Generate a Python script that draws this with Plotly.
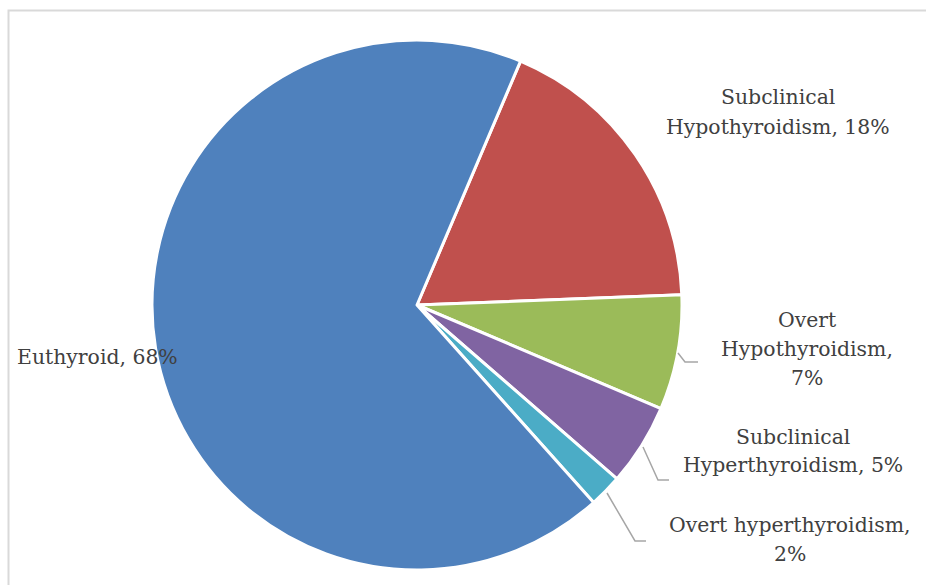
import plotly.graph_objects as go

labels = ["Subclinical Hypothyroidism", "Overt Hypothyroidism", "Subclinical Hyperthyroidism",
          "Overt hyperthyroidism", "Euthyroid"]
values = [18, 7, 5, 2, 68]
colors = ["#C0504D", "#9BBB59", "#8064A2", "#4BACC6", "#4F81BD"]
label_lines = [["Subclinical", "Hypothyroidism, 18%"],
               ["Overt", "Hypothyroidism,", "7%"],
               ["Subclinical", "Hyperthyroidism, 5%"],
               ["Overt hyperthyroidism,", "2%"],
               ["Euthyroid, 68%"]]

W, H = 926, 585
cx, cy, R = 417, 305, 265

def px(x):
    return x / W

def py(y):
    return 1 - y / H

fig = go.Figure(go.Pie(
    labels=labels, values=values, sort=False, direction="clockwise", rotation=23,
    marker=dict(colors=colors, line=dict(color="white", width=3)),
    textinfo="none", hoverinfo="label+percent", showlegend=False,
    domain=dict(x=[px(cx - R), px(cx + R)], y=[py(cy + R), py(cy - R)]),
))

font = dict(family="DejaVu Serif", size=20.4, color="#404040")
label_pos = [(778, 112), (807, 349), (793, 451), (790, 539), (97, 357)]
line_gap = 29
annotations = []
for lines, (x, y) in zip(label_lines, label_pos):
    n = len(lines)
    for i, t in enumerate(lines):
        yy = y + (i - (n - 1) / 2) * line_gap
        annotations.append(dict(x=px(x), y=py(yy), xref="paper", yref="paper", text=t,
                                showarrow=False, font=font, align="center",
                                xanchor="center", yanchor="middle"))

leaders = [[(678, 353), (685, 362), (698, 362)],
           [(643, 447), (658, 480), (669, 480)],
           [(607, 493), (635, 541), (646, 541)]]
shapes = []
for pts in leaders:
    d = "M " + " L ".join(f"{px(x)} {py(y)}" for x, y in pts)
    shapes.append(dict(type="path", path=d, xref="paper", yref="paper",
                       line=dict(color="#A6A6A6", width=1.5)))
shapes.append(dict(type="rect", xref="paper", yref="paper", x0=px(8.5), y0=py(600),
                   x1=px(940), y1=py(10.5), line=dict(color="#D9D9D9", width=2)))

fig.update_layout(width=W, height=H, margin=dict(l=0, r=0, t=0, b=0),
                  paper_bgcolor="white", plot_bgcolor="white",
                  annotations=annotations, shapes=shapes)
fig.write_html("out.html")
